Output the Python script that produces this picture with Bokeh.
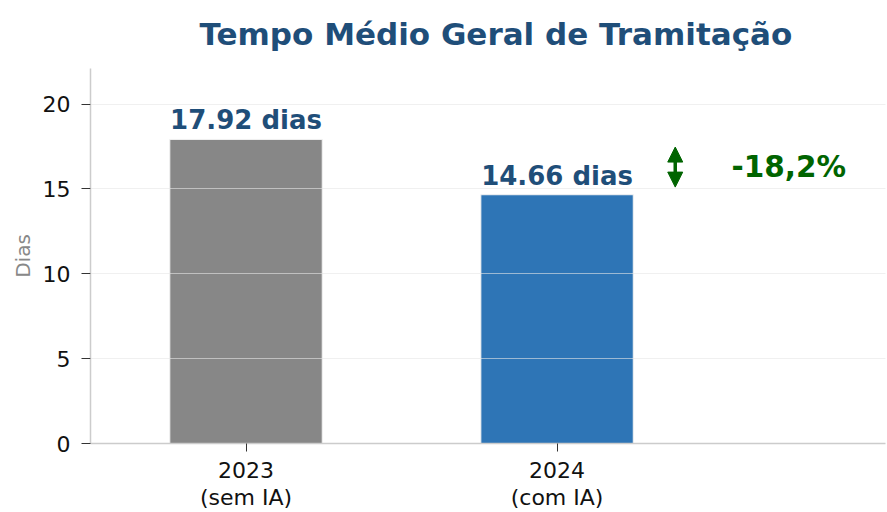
from bokeh.plotting import figure
from bokeh.models import Range1d, FixedTicker, Arrow, NormalHead, ColumnDataSource, Title, LinearAxis
from bokeh.core.properties import value
from bokeh.embed import file_html
from bokeh.resources import INLINE

# ---- data ----
years = ["2023", "2024"]
notes = ["(sem IA)", "(com IA)"]
values = [17.92, 14.66]
bar_labels = ["17.92 dias", "14.66 dias"]
bar_colors = ["#878787", "#2e75b6"]
change_label = "-18,2%"
yticks = [0, 5, 10, 15, 20]
title_text = "Tempo Médio Geral de Tramitação"

FONT = "DejaVu Sans"
TITLE_COLOR = "#1f4e79"
GREEN = "#006400"

xs = list(range(len(years)))

p = figure(width=887, height=512, output_backend="svg", toolbar_location=None,
           x_range=Range1d(-0.5, 2.056), y_range=Range1d(0, 22.1),
           min_border_left=90, min_border_right=2, min_border_top=68, min_border_bottom=0)
p.outline_line_color = None
p.background_fill_color = "white"

p.title = Title(text=title_text, text_font=FONT, text_font_size="31px",
                text_font_style="bold", text_color=TITLE_COLOR, align="left",
                vertical_align="top", offset=109, standoff=30)

src = ColumnDataSource(dict(x=xs, top=values, color=bar_colors, label=bar_labels,
                            ly=[v + 1.13 for v in values]))
p.vbar(x="x", top="top", width=0.49, bottom=0, fill_color="color", line_color="#f2f2f2",
       line_width=1, source=src)

p.text(x="x", y="ly", text="label", source=src, text_align="center", text_baseline="middle",
       text_font=value(FONT), text_font_style="bold", text_font_size="26px", text_color=TITLE_COLOR)

# change arrow
shrink = 0.45
ax = 1.38
head_kw = dict(size=15, fill_color=GREEN, line_color=GREEN, line_width=1)
p.add_layout(Arrow(start=NormalHead(**head_kw), end=NormalHead(**head_kw),
                   x_start=ax, y_start=values[0] - shrink, x_end=ax, y_end=values[1] + shrink,
                   line_color=GREEN, line_width=3.5))
p.text(x=[1.745], y=[(values[0] + values[1]) / 2], text=[change_label], text_align="center",
       text_baseline="middle", text_font=value(FONT), text_font_style="bold",
       text_font_size="29.5px", text_color=GREEN)

# grid
p.xgrid.visible = False
p.ygrid.ticker = FixedTicker(ticks=yticks)
p.ygrid.grid_line_color = "#e6e6e6"
p.ygrid.grid_line_alpha = 0.6
p.ygrid.level = "overlay"

# axes
p.xaxis.ticker = FixedTicker(ticks=xs)
p.xaxis.major_label_overrides = {i: c for i, c in zip(xs, years)}
p.yaxis.ticker = FixedTicker(ticks=yticks)
p.yaxis.axis_label = "Dias"

for ax_ in (p.xaxis[0], p.yaxis[0]):
    ax_.axis_line_color = "#cccccc"
    ax_.axis_line_width = 1.5
    ax_.major_tick_line_color = "#333333"
    ax_.major_tick_line_width = 1
    ax_.major_tick_in = 0
    ax_.minor_tick_line_color = None
    ax_.major_label_text_font = FONT
    ax_.major_label_text_font_size = "22px"
    ax_.major_label_text_color = "#111111"

p.xaxis.major_tick_out = 8
p.xaxis.major_label_standoff = 10
p.yaxis.major_tick_out = 9
p.yaxis.major_label_standoff = 11
p.yaxis.axis_label_text_font = FONT
p.yaxis.axis_label_text_font_size = "20px"
p.yaxis.axis_label_text_font_style = "normal"
p.yaxis.axis_label_text_color = "#888888"
p.yaxis.axis_label_standoff = 5

# second line of category labels
note_axis = LinearAxis(ticker=FixedTicker(ticks=xs),
                       major_label_overrides={i: n for i, n in zip(xs, notes)},
                       axis_line_color=None, major_tick_line_color=None,
                       minor_tick_line_color=None, major_tick_out=0, major_tick_in=0,
                       major_label_standoff=4, major_label_text_font=FONT,
                       major_label_text_font_size="22px", major_label_text_color="#111111")
p.add_layout(note_axis, "below")

open("out.html", "w").write(file_html(p, INLINE))
